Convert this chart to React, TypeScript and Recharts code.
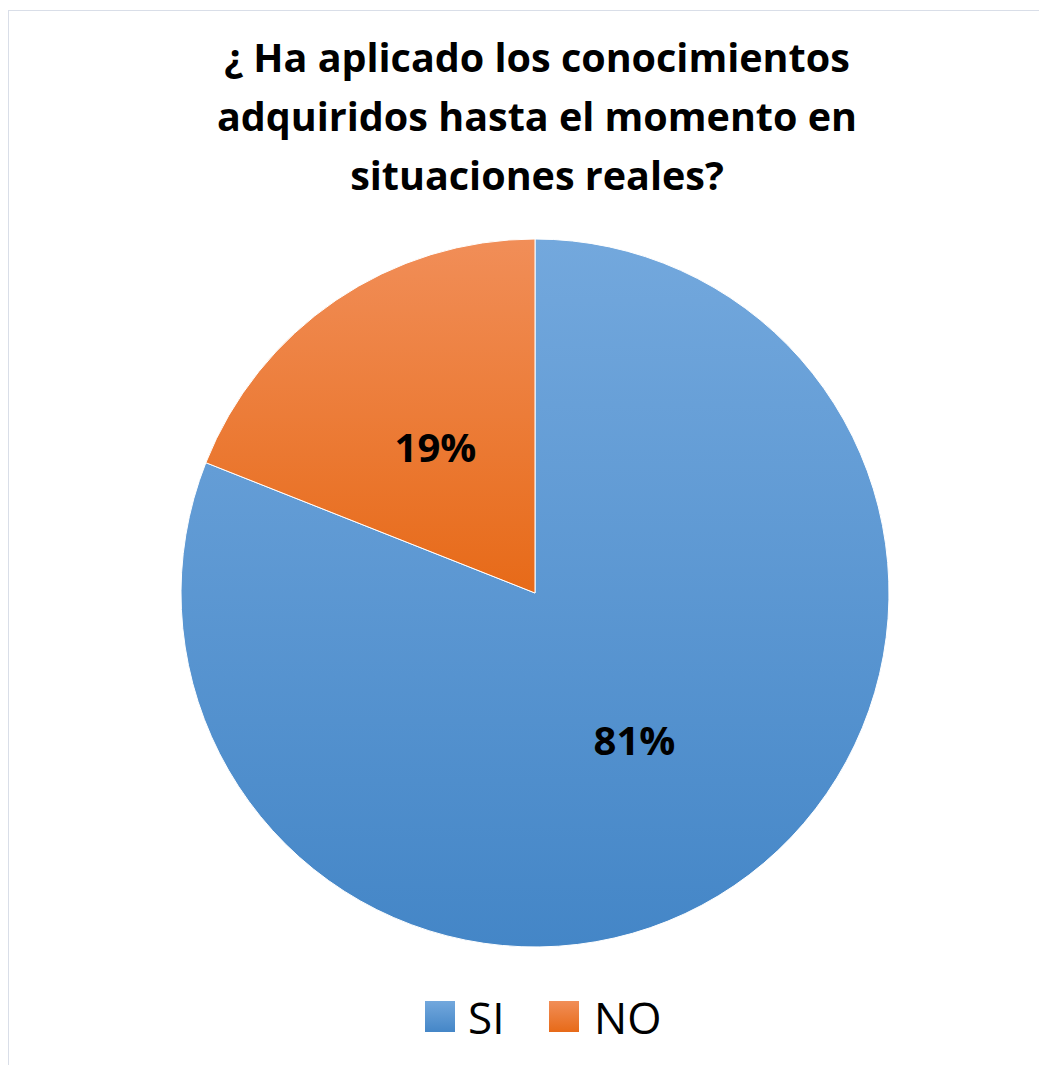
import { PieChart, Pie, Cell } from 'recharts';

const categories = ['SI', 'NO'];
const values = [81, 19];
const labels = ['81%', '19%'];
const titleLines = [
    '¿ Ha aplicado los conocimientos',
    'adquiridos hasta el momento en',
    'situaciones reales?',
];

const gradients = [
    { id: 'gradSi', top: '#73A8DD', bottom: '#4486C7' },
    { id: 'gradNo', top: '#F18E58', bottom: '#E76A18' },
];

const data = categories.map((name, i) => ({ name, value: values[i], label: labels[i] }));

const RAD = Math.PI / 180;
const FONT = '"Open Sans", Lato, sans-serif';

// legend item positions (x of swatch, x of text) inside the frame
const legendPos = [
    { sw: 416, tx: 459 },
    { sw: 540, tx: 585 },
];

const renderLabel = (props: any) => {
    const { cx, cy, midAngle, outerRadius, index } = props;
    const r = outerRadius * 0.5;
    const x = cx + r * Math.cos(-midAngle * RAD);
    const y = cy + r * Math.sin(-midAngle * RAD);
    return (
        <text
            x={x}
            y={y}
            textAnchor="middle"
            dominantBaseline="central"
            fill="#000"
            fontFamily={FONT}
            fontWeight="bold"
            fontSize={40}
        >
            {data[index].label}
        </text>
    );
};

const App = () => {
    return (
        <div
            style={{
                position: 'relative',
                marginTop: 2,
                width: 1100,
                height: 1100,
                borderLeft: '1.5px solid #D9DEE8',
                borderTop: '1.5px solid #D9DEE8',
                fontFamily: FONT,
            }}
        >
            <div
                style={{
                    position: 'absolute',
                    left: 0,
                    top: 17,
                    width: 1056,
                    textAlign: 'center',
                    fontSize: 39.5,
                    fontWeight: 'bold',
                    lineHeight: '59px',
                    color: '#000',
                }}
            >
                {titleLines.map((t, i) => (
                    <div key={i}>{t}</div>
                ))}
            </div>
            <PieChart width={1050} height={1060} style={{ position: 'absolute', left: 0, top: 0 }}>
                <defs>
                    {gradients.map((g) => (
                        <linearGradient key={g.id} id={g.id} x1="0" y1="0" x2="0" y2="1">
                            <stop offset="0%" stopColor={g.top} />
                            <stop offset="100%" stopColor={g.bottom} />
                        </linearGradient>
                    ))}
                </defs>
                <Pie
                    data={data}
                    dataKey="value"
                    nameKey="name"
                    cx={521}
                    cy={577}
                    outerRadius={354}
                    startAngle={90}
                    endAngle={-270}
                    stroke="#fff"
                    strokeWidth={1}
                    label={renderLabel}
                    labelLine={false}
                    isAnimationActive={false}
                >
                    {data.map((d, i) => (
                        <Cell key={d.name} fill={`url(#${gradients[i].id})`} />
                    ))}
                </Pie>
            </PieChart>
            {data.map((d, i) => (
                <div key={d.name}>
                    <div
                        style={{
                            position: 'absolute',
                            left: legendPos[i].sw,
                            top: 990,
                            width: 30,
                            height: 31,
                            background: `linear-gradient(${gradients[i].top}, ${gradients[i].bottom})`,
                        }}
                    />
                    <div
                        style={{
                            position: 'absolute',
                            left: legendPos[i].tx,
                            top: 976,
                            fontSize: 44,
                            lineHeight: '60px',
                            color: '#000',
                        }}
                    >
                        {d.name}
                    </div>
                </div>
            ))}
        </div>
    );
};

export default App;
